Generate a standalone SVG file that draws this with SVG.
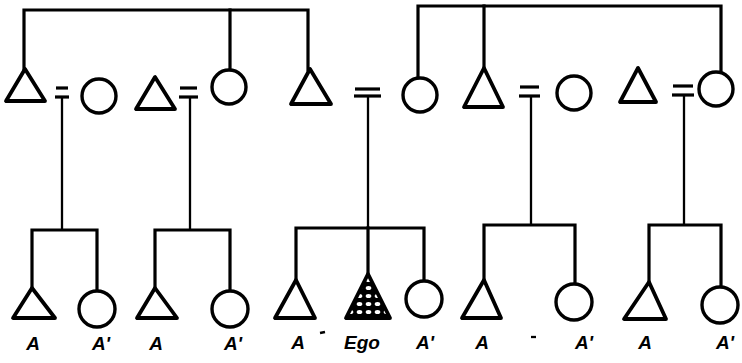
<svg xmlns="http://www.w3.org/2000/svg" width="742" height="363" viewBox="0 0 742 363">
<defs>
<pattern id="hatch" x="346" y="276" width="9" height="8" patternUnits="userSpaceOnUse">
<rect width="9" height="8" fill="#000"/>
<ellipse cx="4.5" cy="4" rx="2.8" ry="2.1" fill="#fff"/>
</pattern>
</defs>
<style>
.ln{fill:none;stroke:#000;stroke-width:3.2;stroke-linecap:square}
.thin{fill:none;stroke:#000;stroke-width:2.3}
.eq{stroke:#000;stroke-width:3.2}
.m{fill:#fff;stroke:#000;stroke-width:3.8;stroke-linejoin:round}
.f{fill:#fff;stroke:#000;stroke-width:3.4}
.ego{fill:url(#hatch);stroke:#000;stroke-width:3.8;stroke-linejoin:round}
.lb{font-family:"Liberation Sans",Arial,sans-serif;font-weight:bold;font-style:italic;font-size:19px;fill:#000;text-anchor:middle}
</style>
<rect width="742" height="363" fill="#fff"/>
<g id="connectors">
<polyline class="ln" points="24,70 24,10 308,10 308,70"/>
<line class="ln" x1="230" y1="10" x2="230" y2="70"/>
<polyline class="ln" points="418,78 418,6 721,6 721,72"/>
<line class="ln" x1="484" y1="6" x2="484" y2="68"/>
<line class="eq" x1="56" y1="88" x2="68" y2="88"/><line class="eq" x1="55" y1="97" x2="69" y2="97"/>
<line class="eq" x1="180" y1="88" x2="197" y2="88"/><line class="eq" x1="179" y1="97" x2="198" y2="97"/>
<line class="eq" x1="355" y1="89" x2="380" y2="89"/><line class="eq" x1="354" y1="96" x2="381" y2="96"/>
<line class="eq" x1="520" y1="87" x2="539" y2="87"/><line class="eq" x1="519" y1="96" x2="540" y2="96"/>
<line class="eq" x1="673" y1="86" x2="693" y2="86"/><line class="eq" x1="672" y1="95" x2="694" y2="95"/>
<line class="thin" x1="62" y1="97" x2="62" y2="230"/>
<line class="thin" x1="190" y1="97" x2="190" y2="230"/>
<line class="thin" x1="368" y1="96" x2="368" y2="228"/>
<line class="thin" x1="531" y1="96" x2="531" y2="225"/>
<line class="thin" x1="684" y1="95" x2="684" y2="225"/>
<polyline class="ln" points="32,288 32,230 97,230 97,291"/>
<polyline class="ln" points="155,288 155,230 230,230 230,291"/>
<polyline class="ln" points="296,280 296,228 424,228 424,280"/>
<line class="ln" x1="368" y1="228" x2="368" y2="274"/>
<polyline class="ln" points="484,280 484,225 575,225 575,283"/>
<polyline class="ln" points="649,282 649,225 721,225 721,287"/>
</g>
<g id="top-triangle-1"><polygon class="m" points="25,69 6,101 45,101"/></g>
<g id="top-circle-1"><circle class="f" cx="99" cy="96" r="17"/></g>
<g id="top-triangle-2"><polygon class="m" points="155,77 136,109 175,109"/></g>
<g id="top-circle-2"><circle class="f" cx="229" cy="87" r="17"/></g>
<g id="top-triangle-3"><polygon class="m" points="310,69 291,104 331,104"/></g>
<g id="top-circle-3"><circle class="f" cx="420" cy="95" r="17"/></g>
<g id="top-triangle-4"><polygon class="m" points="484,68 464,107 503,107"/></g>
<g id="top-circle-4"><circle class="f" cx="574" cy="93" r="17"/></g>
<g id="top-triangle-5"><polygon class="m" points="638,68 620,102 656,102"/></g>
<g id="top-circle-5"><circle class="f" cx="716" cy="89" r="17"/></g>
<g id="child-1a"><polygon class="m" points="32,288 13,318 55,318"/><text class="lb" x="33" y="350">A</text></g>
<g id="child-1b"><circle class="f" cx="97" cy="309" r="18"/><text class="lb" x="101" y="350">A'</text></g>
<g id="child-2a"><polygon class="m" points="155,288 137,318 177,318"/><text class="lb" x="156" y="350">A</text></g>
<g id="child-2b"><circle class="f" cx="230" cy="309" r="18"/><text class="lb" x="233" y="350">A'</text></g>
<g id="child-3a"><polygon class="m" points="296,280 275,318 315,318"/><text class="lb" x="298" y="349">A</text></g>
<line class="thin" x1="320" y1="333" x2="325" y2="332"/>
<g id="ego"><polygon class="ego" points="368,274 346,318 390,318"/><text class="lb" x="362" y="349">Ego</text></g>
<g id="child-3c"><circle class="f" cx="424" cy="299" r="18"/><text class="lb" x="425" y="349">A'</text></g>
<g id="child-4a"><polygon class="m" points="484,280 462,318 501,318"/><text class="lb" x="482" y="349">A</text></g>
<line class="thin" x1="531" y1="337" x2="536" y2="337"/>
<g id="child-4b"><circle class="f" cx="574" cy="302" r="18"/><text class="lb" x="584" y="349">A'</text></g>
<g id="child-5a"><polygon class="m" points="649,282 624,319 666,319"/><text class="lb" x="645" y="349">A</text></g>
<g id="child-5b"><circle class="f" cx="720" cy="305" r="18"/><text class="lb" x="725" y="349">A'</text></g>
</svg>
